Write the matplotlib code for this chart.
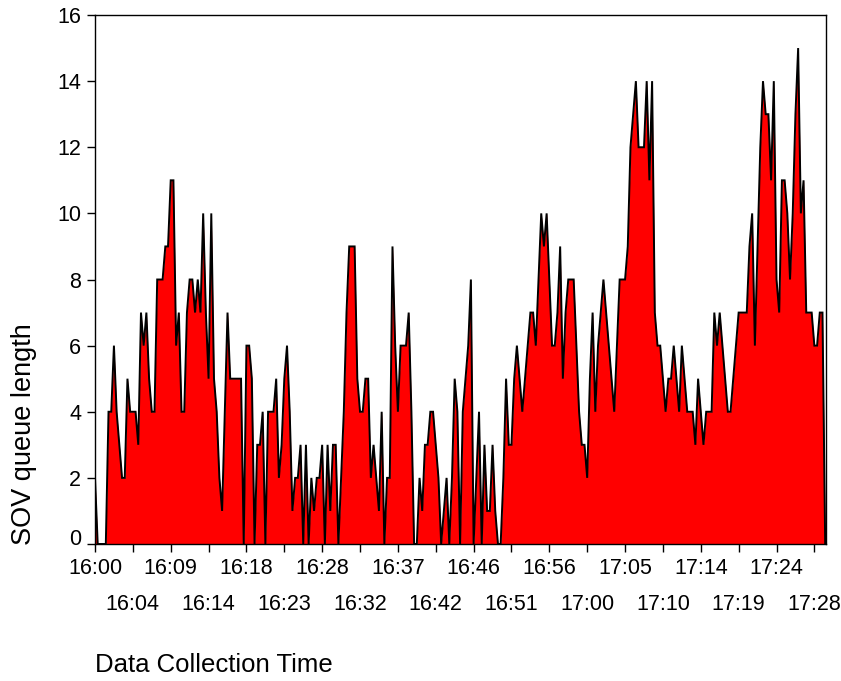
import numpy as np
import matplotlib
matplotlib.use("Agg")
import matplotlib.pyplot as plt
import matplotlib.transforms as mtransforms
from matplotlib.ticker import FixedLocator

# ---- data -------------------------------------------------------------
sample_interval_s = 20          # one reading every 20 s starting 16:00:00
queue_length = [
    2, 0, 0, 0, 0, 4, 4, 6, 4, 3, 2, 2, 5, 4, 4, 4, 3, 7, 6, 7,
    5, 4, 4, 8, 8, 8, 9, 9, 11, 11, 6, 7, 4, 4, 7, 8, 8, 7, 8, 7,
    10, 7, 5, 10, 5, 4, 2, 1, 4, 7, 5, 5, 5, 5, 5, 0, 6, 6, 5, 0,
    3, 3, 4, 0, 4, 4, 4, 5, 2, 3, 5, 6, 4, 1, 2, 2, 3, 0, 3, 0,
    2, 1, 2, 2, 3, 0, 3, 1, 3, 3, 0, 2, 4, 7, 9, 9, 9, 5, 4, 4,
    5, 5, 2, 3, 2, 1, 4, 0, 2, 2, 9, 6, 4, 6, 6, 6, 7, 4, 0, 0,
    2, 1, 3, 3, 4, 4, 3, 2, 0, 1, 2, 0, 2, 5, 4, 0, 4, 5, 6, 8,
    0, 2, 4, 0, 3, 1, 1, 3, 1, 0, 0, 2, 5, 3, 3, 5, 6, 5, 4, 5,
    6, 7, 7, 6, 8, 10, 9, 10, 8, 6, 6, 7, 9, 5, 7, 8, 8, 8, 6, 4,
    3, 3, 2, 5, 7, 4, 6, 7, 8, 7, 6, 5, 4, 6, 8, 8, 8, 9, 12, 13,
    14, 12, 12, 12, 14, 11, 14, 7, 6, 6, 5, 4, 5, 5, 6, 5, 4, 6, 5, 4,
    4, 4, 3, 5, 4, 3, 4, 4, 4, 7, 6, 7, 6, 5, 4, 4, 5, 6, 7, 7,
    7, 7, 9, 10, 6, 9, 12, 14, 13, 13, 11, 14, 8, 7, 11, 11, 10, 8, 10, 13,
    15, 10, 11, 7, 7, 7, 6, 6, 7, 7, 0,
]
tick_step_samples = 14          # a tick every 14 readings (4 min 40 s)
tick_labels = ["16:00", "16:04", "16:09", "16:14", "16:18", "16:23", "16:28",
               "16:32", "16:37", "16:42", "16:46", "16:51", "16:56", "17:00",
               "17:05", "17:10", "17:14", "17:19", "17:24", "17:28"]
y_ticks = [0, 2, 4, 6, 8, 10, 12, 14, 16]

# ---- plot -------------------------------------------------------------
plt.rcParams['font.family'] = ['Liberation Sans', 'DejaVu Sans']

W, H = 841, 681
fig = plt.figure(figsize=(W / 100, H / 100), dpi=100)
ax = fig.add_axes([95 / W, 1 - 544 / H, (826 - 95) / W, (544 - 15) / H])

t = np.arange(len(queue_length)) * sample_interval_s
v = np.array(queue_length, dtype=float)

ax.fill_between(t, 0, v, color='#FF0000', linewidth=0, zorder=1)
ax.plot(t, v, color='black', linewidth=1.4, zorder=2, solid_joinstyle='miter')

ax.set_xlim(0, 5406)
ax.set_ylim(0, 16)

tick_pos = np.arange(len(tick_labels)) * tick_step_samples * sample_interval_s
ax.xaxis.set_major_locator(FixedLocator(tick_pos[0::2]))
ax.xaxis.set_minor_locator(FixedLocator(tick_pos[1::2]))
ax.set_xticklabels(tick_labels[0::2])
ax.set_xticklabels(tick_labels[1::2], minor=True)

ax.set_yticks(y_ticks)
ax.set_yticklabels([str(y) for y in y_ticks])

ax.tick_params(axis='x', which='major', direction='out', length=6, width=1,
               pad=4, labelsize=15.5)
ax.tick_params(axis='x', which='minor', direction='out', length=6, width=1,
               pad=30, labelsize=15.5)
ax.tick_params(axis='y', direction='out', length=6, width=1, pad=4,
               labelsize=15.5)

# the "0" label sits a little above the axis line in the reference
zero_label = ax.get_yticklabels()[0]
zero_label.set_transform(zero_label.get_transform() +
                         mtransforms.ScaledTranslation(0, 7 / 100,
                                                       fig.dpi_scale_trans))

for s in ax.spines.values():
    s.set_linewidth(1.0)
    s.set_color('black')

fig.text(95 / W, 1 - 665 / H, "Data Collection Time", ha='left',
         va='center', fontsize=18.5)
fig.text(24 / W, 1 - 434 / H, "SOV queue length", ha='center',
         va='center', rotation=90, fontsize=19.5)

fig.savefig("out.png", dpi=100)
